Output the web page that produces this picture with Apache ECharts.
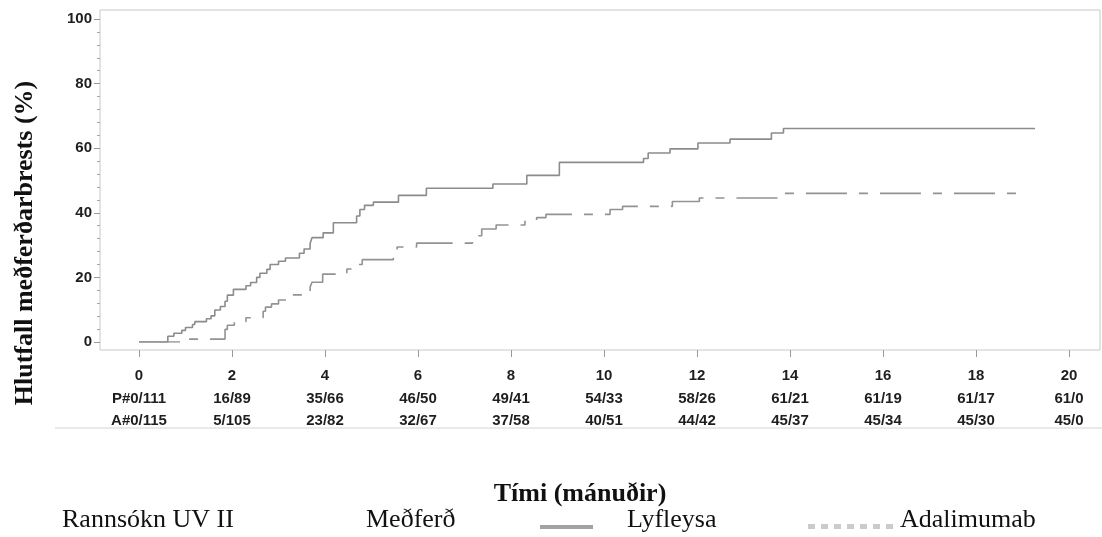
<!DOCTYPE html>
<html>
<head>
<meta charset="utf-8">
<script src="https://cdn.jsdelivr.net/npm/echarts@6/dist/echarts.min.js"></script>
<style>
  html, body { margin: 0; padding: 0; background: #fff; }
  #chart { width: 1102px; height: 537px; }
</style>
</head>
<body>
<div id="chart"></div>
<script>
// ---- Data ----
const xTicks = [0, 2, 4, 6, 8, 10, 12, 14, 16, 18, 20];
const atRiskP = ['P#0/111', '16/89', '35/66', '46/50', '49/41', '54/33', '58/26', '61/21', '61/19', '61/17', '61/0'];
const atRiskA = ['A#0/115', '5/105', '23/82', '32/67', '37/58', '40/51', '44/42', '45/37', '45/34', '45/30', '45/0'];

const placeboT = [0, 0.62, 0.75, 0.92, 1.0, 1.15, 1.2, 1.45, 1.55, 1.63, 1.75, 1.85, 1.9, 2.03, 2.3, 2.4, 2.53, 2.6, 2.75, 2.82, 3.0, 3.15, 3.45, 3.55, 3.68, 3.72, 3.96, 4.18, 4.68, 4.75, 4.85, 5.04, 5.58, 6.18, 7.61, 8.34, 9.04, 10.85, 10.95, 11.42, 12.02, 12.71, 13.6, 13.86, 19.27];
const placeboV = [0, 1.8, 2.7, 3.6, 4.5, 5.4, 6.3, 7.2, 8.1, 9.9, 11.0, 12.6, 14.5, 16.3, 17.4, 18.4, 20.0, 21.3, 22.5, 24.0, 25.0, 26.0, 27.5, 28.8, 30.5, 32.3, 33.8, 36.9, 39.0, 41.0, 42.3, 43.3, 45.4, 47.6, 48.9, 51.6, 55.6, 56.8, 58.5, 59.8, 61.6, 62.8, 64.7, 66.1, 66.1];

const adaT = [0, 0.95, 1.85, 1.9, 2.05, 2.3, 2.67, 2.72, 2.85, 3.0, 3.3, 3.68, 3.72, 3.95, 4.47, 4.65, 4.8, 5.47, 5.55, 5.97, 7.17, 7.37, 7.68, 8.3, 8.55, 8.75, 10.13, 10.4, 11.47, 12.05, 13.86, 18.9];
const adaV = [0, 0.9, 3.9, 5.2, 6.3, 7.5, 9.5, 10.8, 11.8, 13.0, 14.6, 17.0, 18.5, 21.0, 22.6, 24.0, 25.5, 27.8, 29.4, 30.6, 32.9, 35.0, 36.2, 37.4, 38.5, 39.5, 41.0, 42.0, 43.5, 44.6, 46.0, 46.0];

const yTitle = 'Hlutfall meðferðarbrests (%)';
const xTitle = 'Tími (mánuðir)';
const studyLabel = 'Rannsókn UV II';
const treatLabel = 'Meðferð';
const seriesNames = ['Lyfleysa', 'Adalimumab'];

// ---- Build ----
const pairs = (t, v) => t.map((x, i) => [x, v[i]]);
const SANS = '"Liberation Sans", Arial, sans-serif';
const SERIF = '"Liberation Serif", "Times New Roman", serif';

const chart = echarts.init(document.getElementById('chart'), null, { renderer: 'canvas' });

function txt(text, x, y, font, align, extra) {
  return Object.assign({ type: 'text', x: x, y: y,
    style: { text: text, font: font, fill: '#111', align: align, verticalAlign: 'middle', textAlign: align, textVerticalAlign: 'middle' } }, extra || {});
}

const option = {
  animation: false,
  backgroundColor: '#ffffff',
  grid: [
    { left: 100, top: 10, right: 2, bottom: 187, show: true, borderColor: '#c8c8c8', borderWidth: 1, backgroundColor: 'transparent' },
    { left: 139, top: 19, right: 33, bottom: 195 }
  ],
  xAxis: [
    { gridIndex: 0, type: 'value', show: false, min: 0, max: 1 },
    {
      gridIndex: 1, type: 'value', min: 0, max: 20, interval: 2, offset: 8,
      axisLine: { show: false, onZero: false },
      axisTick: { show: true, length: 7, lineStyle: { color: '#9a9a9a', width: 1 } },
      splitLine: { show: false },
      axisLabel: {
        margin: 15,
        fontFamily: SANS, fontSize: 15, fontWeight: 'bold', color: '#1e1e1e', lineHeight: 22.5,
        formatter: function (val) {
          const i = xTicks.indexOf(val);
          if (i < 0) return '';
          return val + '\n' + atRiskP[i] + '\n' + atRiskA[i];
        }
      }
    }
  ],
  yAxis: [
    { gridIndex: 0, type: 'value', show: false, min: 0, max: 1 },
    {
      gridIndex: 1, type: 'value', min: 0, max: 100, interval: 20, offset: 39,
      axisLine: { show: false, onZero: false },
      axisTick: { show: true, length: 6, lineStyle: { color: '#9a9a9a', width: 1 } },
      minorTick: { show: true, splitNumber: 5, length: 3, lineStyle: { color: '#b0a0a0', width: 1 } },
      splitLine: { show: false },
      axisLabel: { margin: 8, fontFamily: SANS, fontSize: 15, fontWeight: 'bold', color: '#1e1e1e' }
    }
  ],
  series: [
    {
      name: seriesNames[0], type: 'line', xAxisIndex: 1, yAxisIndex: 1,
      step: 'end', showSymbol: false, symbol: 'none',
      lineStyle: { color: '#8c8c8c', width: 1.6, type: 'solid' },
      data: pairs(placeboT, placeboV)
    },
    {
      name: seriesNames[1], type: 'line', xAxisIndex: 1, yAxisIndex: 1,
      step: 'end', showSymbol: false, symbol: 'none',
      lineStyle: { color: '#929292', width: 1.6, type: [41, 12, 9, 12] },
      data: pairs(adaT, adaV)
    }
  ],
  graphic: [
    { type: 'line', shape: { x1: 55, y1: 428, x2: 1102, y2: 428 }, style: { stroke: '#d4d4d4', lineWidth: 1 } },
    txt(yTitle, 25, 243, 'bold 26px ' + SERIF, 'center', { rotation: Math.PI / 2 }),
    txt(xTitle, 580, 494, 'bold 26px ' + SERIF, 'center'),
    txt(studyLabel, 62, 520, '26px ' + SERIF, 'left'),
    txt(treatLabel, 366, 520, '26px ' + SERIF, 'left'),
    { type: 'rect', shape: { x: 540, y: 525, width: 53, height: 4 }, style: { fill: '#a2a2a2' } },
    txt(seriesNames[0], 627, 520, '26px ' + SERIF, 'left'),
    { type: 'group', children: [0, 1, 2, 3, 4, 5, 6].map(function (k) {
        return { type: 'rect', shape: { x: 808 + k * 13, y: 524, width: 7, height: 5 }, style: { fill: '#cbcbcb' } };
      }) },
    txt(seriesNames[1], 900, 520, '26px ' + SERIF, 'left')
  ]
};

chart.setOption(option);
</script>
</body>
</html>
